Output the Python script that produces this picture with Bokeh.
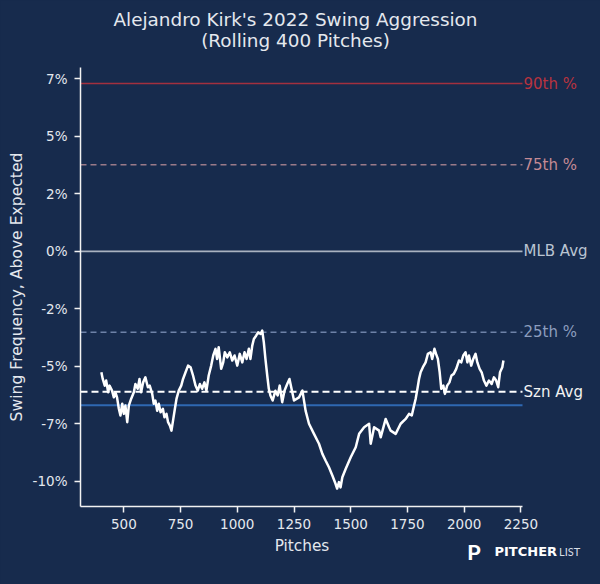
import math
from bokeh.plotting import figure
from bokeh.models import Range1d, Label, FixedTicker
from bokeh.embed import file_html
from bokeh.resources import INLINE

# ---------------- data ----------------
pitches = [401, 407, 416, 422, 431, 437, 448, 456, 463, 470, 478, 485, 493, 500, 507,
           515, 522, 532, 544, 551, 561, 569, 576, 585, 595, 606, 614, 625, 632, 639,
           647, 654, 662, 672, 679, 688, 695, 703, 710, 718, 725, 732, 742, 753, 761,
           772, 783, 794, 805, 816, 826, 835, 845, 855, 864, 874, 885, 894, 904, 911,
           918, 929, 938, 945, 956, 967, 978, 988, 1000, 1011, 1022, 1032, 1041, 1051,
           1058, 1066, 1073, 1083, 1092, 1103, 1110, 1117, 1124, 1132, 1139, 1146, 1156,
           1168, 1178, 1187, 1198, 1208, 1220, 1230, 1250, 1272, 1287, 1301, 1316, 1338,
           1360, 1375, 1389, 1404, 1419, 1433, 1440, 1448, 1455, 1463, 1478, 1500, 1522,
           1537, 1559, 1581, 1588, 1603, 1625, 1632, 1654, 1669, 1676, 1698, 1720, 1742,
           1757, 1769, 1779, 1786, 1794, 1801, 1808, 1818, 1830, 1840, 1852, 1859, 1869,
           1876, 1884, 1892, 1899, 1908, 1915, 1925, 1935, 1944, 1954, 1965, 1977, 1987,
           1996, 2006, 2014, 2021, 2031, 2040, 2050, 2058, 2068, 2077, 2087, 2098, 2109,
           2121, 2131, 2141, 2150, 2158, 2168, 2173]
swing_pct = [-5.26, -5.55, -5.84, -5.62, -6.13, -5.84, -6.06, -6.35, -6.13, -6.35, -6.85,
             -7.14, -6.63, -7.07, -6.71, -7.43, -6.71, -6.42, -6.13, -5.77, -5.98, -5.55,
             -6.13, -5.70, -5.48, -5.91, -5.84, -6.20, -6.63, -6.49, -6.93, -6.63, -7.00,
             -6.85, -7.22, -7.07, -7.43, -7.58, -7.80, -7.29, -6.85, -6.42, -6.06, -5.84,
             -5.55, -5.26, -4.97, -5.04, -5.40, -5.84, -6.06, -5.77, -5.98, -5.70, -6.06,
             -5.40, -4.97, -4.53, -4.24, -4.68, -4.17, -5.11, -4.83, -4.39, -4.61, -4.39,
             -4.75, -4.53, -4.97, -4.46, -4.83, -4.39, -4.68, -4.24, -4.68, -4.10, -3.81,
             -3.67, -3.52, -3.59, -3.45, -3.96, -4.68, -5.40, -5.98, -6.27, -6.49, -6.06,
             -6.27, -5.84, -6.56, -6.06, -5.77, -5.55, -6.49, -6.35, -6.06, -6.93, -7.50,
             -7.94, -8.37, -8.81, -9.10, -9.39, -9.75, -10.11, -10.32, -10.04, -10.27,
             -9.83, -9.46, -8.96, -8.52, -7.94, -7.65, -7.50, -8.37, -7.65, -7.80, -8.09,
             -7.29, -7.65, -7.80, -7.94, -7.50, -7.29, -7.07, -7.14, -6.71, -6.42, -5.98,
             -5.55, -5.26, -5.04, -4.83, -4.46, -4.39, -4.68, -4.24, -4.46, -4.68, -5.26,
             -5.98, -5.84, -6.20, -5.84, -5.70, -5.40, -5.33, -5.11, -4.75, -4.83, -4.53,
             -4.39, -4.83, -4.53, -4.97, -4.68, -4.46, -4.83, -5.11, -5.26, -5.62, -5.84,
             -5.62, -5.77, -5.48, -5.62, -5.91, -5.26, -5.04, -4.75]

ref_names = ["90th %", "75th %", "MLB Avg", "25th %", "Szn Avg", ""]
ref_values = [7.30, 3.77, 0.0, -3.52, -6.11, -6.70]

x_ticks = [500, 750, 1000, 1250, 1500, 1750, 2000, 2250]
x_tick_labels = ["500", "750", "1000", "1250", "1500", "1750", "2000", "2250"]
y_ticks = [7.5, 5, 2.5, 0, -2.5, -5, -7.5, -10]
y_tick_labels = ["7%", "5%", "2%", "0%", "-2%", "-5%", "-7%", "-10%"]

title_lines = ["Alejandro Kirk's 2022 Swing Aggression", "(Rolling 400 Pitches)"]
x_label = "Pitches"
y_label = "Swing Frequency, Above Expected"

# ---------------- styles ----------------
BG = "#172B4D"
FG = "#E4E8EE"
ref_line_colors = ["#A3303F", "#9A7A88", "#A9B2C0", "#6E82A8", "#FFFFFF", "#2F68B2"]
ref_text_colors = ["#B8333F", "#C48A94", "#BAC4D2", "#8C9DBE", "#F2F2F2", "#2F68B2"]
ref_dashes = ["solid", "6 4", "solid", "6 4", "7 4", "solid"]
ref_widths = [1.5, 1.5, 1.8, 1.5, 2.0, 2.0]

W, H = 600, 584
# axes box (pixels) and its data extent
FL, FR, FT, FB = 80, 522, 67, 506
X0, X1 = 309, 2257
Y0, Y1 = -11.1, 8.0
XS = (X1 - X0) / (FR - FL)
YS = (Y1 - Y0) / (FB - FT)


def px2x(px):
    return X0 + (px - FL) * XS


def px2y(py):
    return Y1 - (py - FT) * YS


# the drawing frame covers the whole canvas; axes sit at fixed locations
p = figure(width=W, height=H, output_backend="svg", toolbar_location=None,
           x_range=Range1d(px2x(0), px2x(W)), y_range=Range1d(px2y(H), px2y(0)),
           min_border_left=0, min_border_right=0,
           min_border_top=0, min_border_bottom=0)
p.background_fill_color = BG
p.border_fill_color = BG
p.outline_line_color = None
p.grid.visible = False

for ax in (p.xaxis[0], p.yaxis[0]):
    ax.axis_line_color = "#F2F2F2"
    ax.axis_line_width = 1.5
    ax.major_tick_line_color = "#F2F2F2"
    ax.major_tick_line_width = 1.5
    ax.major_tick_out = 6
    ax.major_tick_in = 0
    ax.minor_tick_line_color = None
    ax.major_label_text_color = FG
    ax.major_label_text_font = "DejaVu Sans"
    ax.major_label_text_font_size = "13.5px"

p.xaxis.fixed_location = Y0
p.xaxis.bounds = (X0, X1)
p.xaxis.ticker = FixedTicker(ticks=x_ticks)
p.xaxis.major_label_overrides = dict(zip(x_ticks, x_tick_labels))
p.xaxis.major_label_standoff = 6

p.yaxis.fixed_location = X0
p.yaxis.bounds = (Y0, Y1)
p.yaxis.ticker = FixedTicker(ticks=y_ticks)
p.yaxis.major_label_overrides = dict(zip(y_ticks, y_tick_labels))
p.yaxis.major_label_standoff = 7

for name, val, lc, tc, dash, w in zip(ref_names, ref_values, ref_line_colors,
                                       ref_text_colors, ref_dashes, ref_widths):
    p.segment(x0=[X0], y0=[val], x1=[X1], y1=[val], line_color=lc,
              line_dash=dash, line_width=w)
    if name:
        p.add_layout(Label(x=X1, y=val, text=name, x_offset=1, text_color=tc,
                           text_font="DejaVu Sans", text_font_size="15px",
                           text_baseline="middle", text_align="left"))

p.line(pitches, swing_pct, line_color="white", line_width=2.5, line_join="round")

for t, base in zip(title_lines, [19, 40]):
    p.add_layout(Label(x=px2x(295), y=px2y(base), text=t, text_align="center",
                       text_baseline="alphabetic", text_color=FG,
                       text_font="DejaVu Sans", text_font_size="18.4px"))

# axis titles
p.add_layout(Label(x=px2x(301.5), y=px2y(545), text=x_label, text_align="center",
                   text_baseline="alphabetic", text_color=FG,
                   text_font="DejaVu Sans", text_font_size="15.3px"))
p.add_layout(Label(x=px2x(16), y=px2y(286.5), text=y_label, text_align="center",
                   text_baseline="middle", text_color=FG, angle=math.pi / 2,
                   text_font="DejaVu Sans", text_font_size="15.6px"))

# Pitcher List logo
p.add_layout(Label(x=px2x(467), y=px2y(552), text="P", text_align="left",
                   text_baseline="alphabetic", text_color="#FFFFFF",
                   text_font="Roboto", text_font_style="bold",
                   text_font_size="21px"))
p.add_layout(Label(x=px2x(494), y=px2y(551), text="PITCHER", text_align="left",
                   text_baseline="alphabetic", text_color="#FFFFFF",
                   text_font="DejaVu Sans", text_font_style="bold",
                   text_font_size="13px"))
p.add_layout(Label(x=px2x(558.5), y=px2y(551), text="LIST", text_align="left",
                   text_baseline="alphabetic", text_color="#D8DDE5",
                   text_font="Lato", text_font_size="11px"))

html = file_html(p, INLINE)
html = html.replace("</head>", "<style>html,body{margin:0;padding:0;background:%s;overflow:hidden}</style></head>" % BG, 1)
open("out.html", "w").write(html)
